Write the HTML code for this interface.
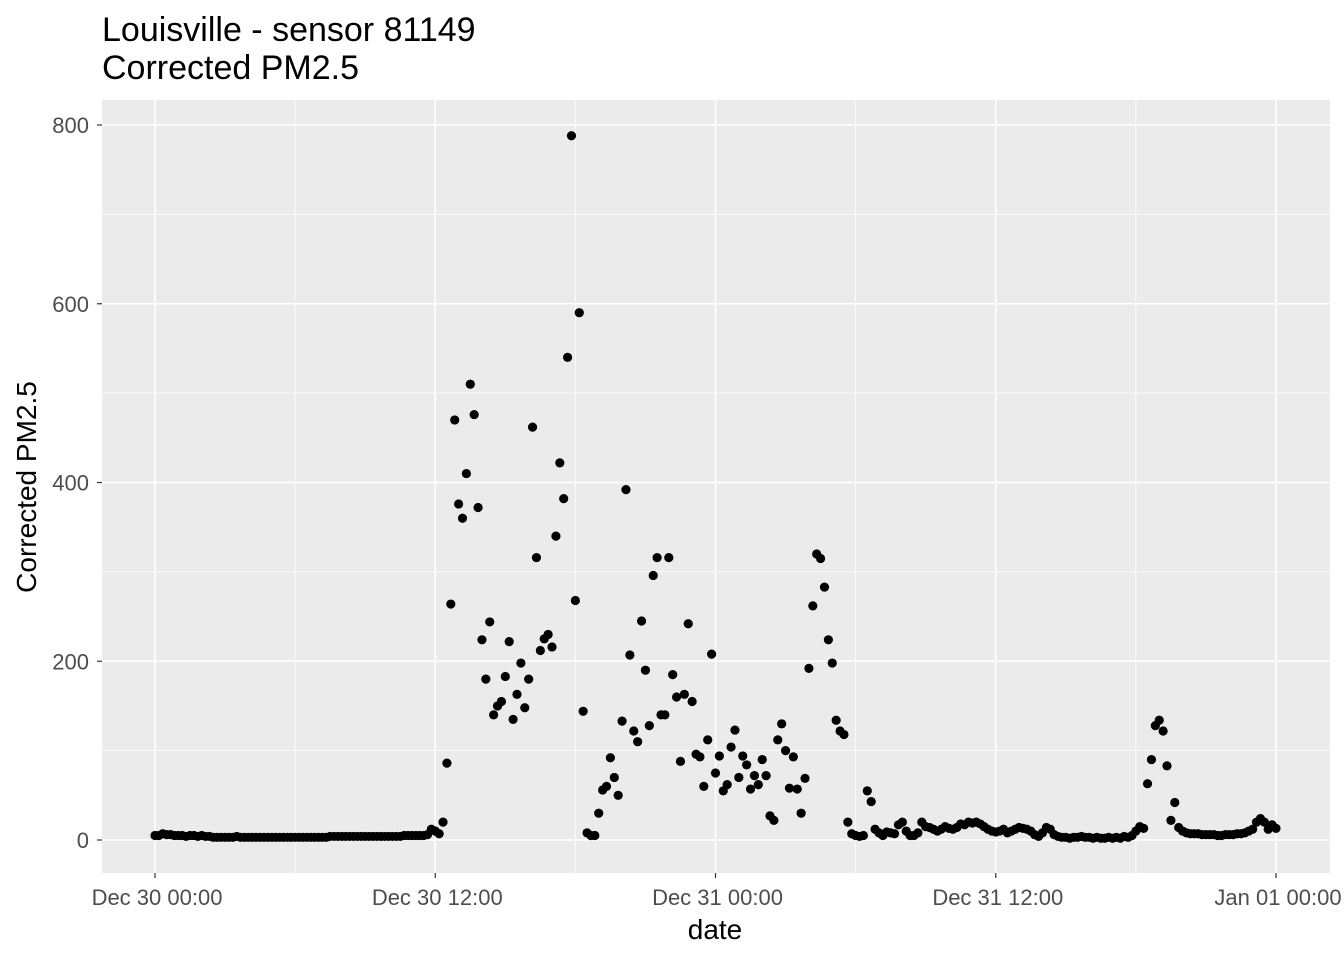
<!DOCTYPE html>
<html><head><meta charset="utf-8"><style>
html,body{margin:0;padding:0;background:#fff;}
svg{display:block;font-family:"Liberation Sans",Arial,sans-serif;}
</style></head><body>
<svg id="chart" width="1344" height="960">
<text x="102" y="41" font-size="34" fill="#000">Louisville - sensor 81149</text>
<text x="102" y="79" font-size="34" fill="#000">Corrected PM2.5</text>
<rect x="102" y="100" width="1228" height="773" fill="#ebebeb"/>
<g id="grid"></g>
<g id="points"></g>
<g id="axes"></g>
<text x="715" y="939" font-size="28" text-anchor="middle" fill="#000">date</text>
<text transform="translate(36,487) rotate(-90)" font-size="28" text-anchor="middle" fill="#000">Corrected PM2.5</text>
</svg>
<script>
const xTickHours = [0, 12, 24, 36, 48];
const xTickLabels = ["Dec 30 00:00", "Dec 30 12:00", "Dec 31 00:00", "Dec 31 12:00", "Jan 01 00:00"];
const yTicks = [0, 200, 400, 600, 800];
const stepMinutes = 10;
const pm25 = [
5,5,7,6,6,5,5,5,4,5,5,4,5,4,4,3,3,3,3,3,3,4,3,3,3,3,3,3,3,3,
3,3,3,3,3,3,3,3,3,3,3,3,3,3,3,4,4,4,4,4,4,4,4,4,4,4,4,4,4,4,
4,4,4,4,5,5,5,5,5,5,
6,12,10,7,20,86,264,470,376,360,410,510,476,372,224,180,244,140,150,155,
183,222,135,163,198,148,180,462,316,212,225,230,216,340,422,382,540,788,268,590,
144,8,5,5,30,56,60,92,70,50,133,392,207,122,110,245,190,128,296,316,
140,140,316,185,160,88,163,242,155,96,93,60,112,208,75,94,55,62,104,123,
70,94,84,57,72,62,90,72,27,22,112,130,100,58,93,57,30,69,192,262,
320,315,283,224,198,134,122,118,20,7,5,4,5,55,43,12,8,5,9,8,
7,17,20,10,5,5,8,20,15,
14,12,10,12,15,13,12,14,18,17,20,19,20,18,15,12,10,9,10,
12,8,10,12,14,13,12,10,6,4,8,14,12,
6,4,3,3,2,3,3,4,3,3,2,3,2,2,3,2,3,2,4,3,
5,10,15,13,63,90,128,134,122,83,22,42,14,10,8,
7,7,7,6,6,6,6,5,5,6,6,6,7,7,8,
10,12,20,24,20,12,17,13
];
const NS = "http://www.w3.org/2000/svg";
const X0 = 155, PXH = (1276 - 155) / 48;
const xScale = h => X0 + h * PXH;
const yScale = v => 840 - v * (715 / 800);
const PL = 102, PR = 1330, PT = 100, PB = 873;
function mk(tag, attrs, parent) {
  const el = document.createElementNS(NS, tag);
  for (const k in attrs) el.setAttribute(k, attrs[k]);
  parent.appendChild(el);
  return el;
}
const grid = document.getElementById('grid');
const pts = document.getElementById('points');
const axes = document.getElementById('axes');
for (let i = 0; i < yTicks.length - 1; i++) {
  const y = yScale((yTicks[i] + yTicks[i + 1]) / 2);
  const l = mk('line', {x1: PL, x2: PR, y1: y, y2: y, stroke: '#fff', 'stroke-width': 0.8}, grid);
  
  
}
for (let i = 0; i < xTickHours.length - 1; i++) {
  const x = xScale((xTickHours[i] + xTickHours[i + 1]) / 2);
  const l = mk('line', {x1: x, x2: x, y1: PT, y2: PB, stroke: '#fff', 'stroke-width': 0.8}, grid);
  
  
}
yTicks.forEach(v => {
  const y = yScale(v);
  const l = mk('line', {x1: PL, x2: PR, y1: y, y2: y, stroke: '#fff', 'stroke-width': 1.6}, grid);
  
  
  const t = mk('line', {x1: PL - 5, x2: PL, y1: y, y2: y, stroke: '#333', 'stroke-width': 1.2}, axes);
  
  
  const tx = mk('text', {x: PL - 13, y: y + 8, 'font-size': 22, fill: '#4d4d4d', 'text-anchor': 'end'}, axes);
  tx.textContent = v;
  
  
});
xTickHours.forEach((h, i) => {
  const x = xScale(h);
  const l = mk('line', {x1: x, x2: x, y1: PT, y2: PB, stroke: '#fff', 'stroke-width': 1.6}, grid);
  
  
  const t = mk('line', {x1: x, x2: x, y1: PB, y2: PB + 5, stroke: '#333', 'stroke-width': 1.2}, axes);
  
  
  const tx = mk('text', {x: x + 2, y: 905, 'font-size': 22, fill: '#4d4d4d', 'text-anchor': 'middle'}, axes);
  tx.textContent = xTickLabels[i];
  
  
});
pm25.forEach((v, i) => {
  const h = i * stepMinutes / 60;
  const c = mk('circle', {cx: xScale(h), cy: yScale(v), r: 4.6, fill: '#000'}, pts);
  
  
});
</script>
</body></html>
